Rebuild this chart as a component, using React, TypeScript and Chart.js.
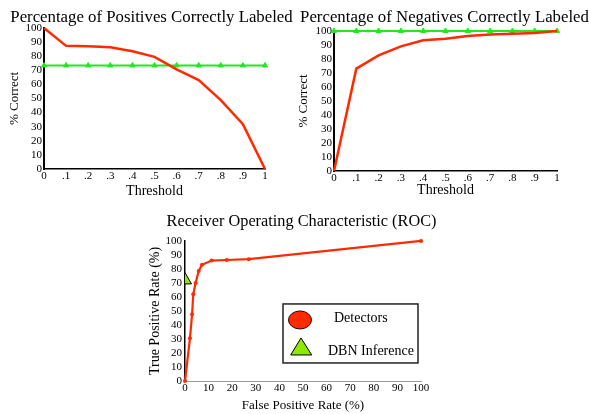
import React, { useEffect, useRef } from 'react';
import { Chart, registerables } from 'chart.js';

Chart.register(...registerables);

const FONT = "'Liberation Serif', 'Times New Roman', Times, serif";
const RED = '#ff2a00';
const GREEN = '#22e822';
const LIME = '#8fe800';

// ---- data ----
const thresholds = [0, 0.1, 0.2, 0.3, 0.4, 0.5, 0.6, 0.7, 0.8, 0.9, 1];
const thresholdTickLabels = ['0', '.1', '.2', '.3', '.4', '.5', '.6', '.7', '.8', '.9', '1'];
const percentTickLabels = ['0', '10', '20', '30', '40', '50', '60', '70', '80', '90', '100'];

const positivesDetectors = [100, 87.3, 87, 86.3, 83.5, 79.5, 70.6, 63, 48.9, 31.8, 0];
const positivesDBN = [73.4, 73.4, 73.4, 73.4, 73.4, 73.4, 73.4, 73.4, 73.4, 73.4, 73.4];
const negativesDetectors = [0, 73.1, 82.6, 89, 93.3, 94.5, 96.4, 97.4, 98, 98.6, 100];
const negativesDBN = [100, 100, 100, 100, 100, 100, 100, 100, 100, 100, 100];

const rocFalsePositive = [0, 2.1, 3, 3.5, 4.5, 5.8, 7.2, 11.3, 17.7, 27, 100];
const rocTruePositive = [0, 30.5, 47.6, 62, 70, 78.6, 83, 86, 86.4, 87, 100];
const dbnFalsePositive = [0];
const dbnTruePositive = [72];
const rocTickLabels = ['0', '10', '20', '30', '40', '50', '60', '70', '80', '90', '100'];

const legendLabels = ['Detectors', 'DBN Inference'];

type ThreshOpts = {
  title: string;
  red: number[];
  green: number[];
  rightSpace: number;
  titlePad: { top: number; bottom: number };
  yTitlePad: number;
  xTitlePadBottom: number;
  xAxisHeight: number;
};

function spacerAxis(width: number): any {
  return {
    position: 'right',
    display: true,
    grid: { display: false, drawTicks: false },
    border: { display: false },
    ticks: { display: false },
    afterFit: (s: any) => {
      s.width = width;
    },
  };
}

function thresholdConfig(o: ThreshOpts): any {
  return {
    type: 'line',
    data: {
      datasets: [
        {
          label: legendLabels[0],
          data: thresholds.map((x, i) => ({ x, y: o.red[i] })),
          borderColor: RED,
          backgroundColor: RED,
          borderWidth: 2.5,
          pointRadius: 0,
          tension: 0,
          clip: 4,
        },
        {
          label: legendLabels[1],
          data: thresholds.map((x, i) => ({ x, y: o.green[i] })),
          borderColor: GREEN,
          backgroundColor: GREEN,
          borderWidth: 2,
          pointStyle: 'triangle',
          pointRadius: 3,
          pointBorderWidth: 1,
          tension: 0,
          clip: 6,
        },
      ],
    },
    options: {
      animation: false,
      responsive: false,
      layout: { padding: 0 },
      plugins: {
        legend: { display: false },
        tooltip: { enabled: false },
        title: {
          display: true,
          text: o.title,
          color: '#000',
          font: { family: FONT, size: 16.8, weight: 'normal' },
          padding: o.titlePad,
        },
      },
      scales: {
        x: {
          type: 'linear',
          min: 0,
          max: 1,
          grid: { display: false, drawTicks: false },
          border: { display: true, color: '#000', width: 1.5 },
          ticks: {
            stepSize: 0.1,
            autoSkip: false,
            maxRotation: 0,
            padding: 1,
            color: '#000',
            font: { family: FONT, size: 11 },
            callback: (_v: number, i: number) => thresholdTickLabels[i],
          },
          title: {
            display: true,
            text: 'Threshold',
            color: '#000',
            font: { family: FONT, size: 14 },
            padding: { top: 0, bottom: o.xTitlePadBottom },
          },
          afterFit: (s: any) => {
            s.height = o.xAxisHeight;
          },
        },
        y: {
          type: 'linear',
          position: 'left',
          min: 0,
          max: 100,
          grid: { display: false, drawTicks: false },
          border: { display: true, color: '#000', width: 2 },
          ticks: {
            stepSize: 10,
            autoSkip: false,
            padding: 2,
            color: '#000',
            font: { family: FONT, size: 11 },
            callback: (_v: number, i: number) => percentTickLabels[i],
          },
          title: {
            display: true,
            text: '% Correct',
            color: '#000',
            font: { family: FONT, size: 13 },
            padding: { top: o.yTitlePad, bottom: 0 },
          },
          afterFit: (s: any) => {
            s.width = 44;
          },
        },
        spacer: spacerAxis(o.rightSpace),
      },
    },
  };
}

const rocLegendPlugin = {
  id: 'rocLegend',
  afterDraw(chart: any) {
    const { ctx, chartArea } = chart;
    const right = chartArea.right - 3;
    const left = right - 135;
    const top = chartArea.top + 63;
    const h = 59;
    ctx.save();
    ctx.fillStyle = '#fff';
    ctx.fillRect(left, top, right - left, h);
    ctx.strokeStyle = '#222';
    ctx.lineWidth = 1.5;
    ctx.strokeRect(left, top, right - left, h);
    // circle marker
    ctx.beginPath();
    ctx.ellipse(left + 17, top + 16, 11.5, 9, 0, 0, Math.PI * 2);
    ctx.fillStyle = RED;
    ctx.fill();
    ctx.strokeStyle = '#330000';
    ctx.lineWidth = 1;
    ctx.stroke();
    // triangle marker
    ctx.beginPath();
    ctx.moveTo(left + 18, top + 34);
    ctx.lineTo(left + 28.7, top + 51);
    ctx.lineTo(left + 7.7, top + 51);
    ctx.closePath();
    ctx.fillStyle = LIME;
    ctx.fill();
    ctx.strokeStyle = '#000';
    ctx.stroke();
    // labels
    ctx.fillStyle = '#000';
    ctx.font = `14px ${FONT}`;
    ctx.textBaseline = 'middle';
    ctx.textAlign = 'left';
    ctx.fillText(legendLabels[0], left + 51, top + 14);
    ctx.fillText(legendLabels[1], left + 45, top + 47);
    ctx.restore();
  },
};

function rocConfig(): any {
  return {
    type: 'line',
    data: {
      datasets: [
        {
          label: legendLabels[1],
          data: dbnFalsePositive.map((x, i) => ({ x, y: dbnTruePositive[i] })),
          showLine: false,
          pointStyle: 'triangle',
          pointRadius: 7.5,
          pointBackgroundColor: LIME,
          pointBorderColor: '#000',
          pointBorderWidth: 1,
          clip: { left: 0, top: 10, right: 10, bottom: 10 },
        },
        {
          label: legendLabels[0],
          data: rocFalsePositive.map((x, i) => ({ x, y: rocTruePositive[i] })),
          borderColor: RED,
          backgroundColor: RED,
          borderWidth: 2.2,
          pointRadius: 2,
          pointBorderWidth: 0,
          tension: 0,
          clip: 5,
        },
      ],
    },
    options: {
      animation: false,
      responsive: false,
      layout: { padding: 0 },
      plugins: {
        legend: { display: false },
        tooltip: { enabled: false },
        title: {
          display: true,
          text: 'Receiver Operating Characteristic (ROC)',
          color: '#000',
          font: { family: FONT, size: 16.3, weight: 'normal' },
          padding: { top: 12.2, bottom: 9.2 },
        },
      },
      scales: {
        x: {
          type: 'linear',
          min: 0,
          max: 100,
          grid: { display: false, drawTicks: false },
          border: { display: true, color: '#9a9a9a', width: 1 },
          ticks: {
            stepSize: 10,
            autoSkip: false,
            maxRotation: 0,
            padding: 0.5,
            color: '#000',
            font: { family: FONT, size: 11 },
            callback: (_v: number, i: number) => rocTickLabels[i],
          },
          title: {
            display: true,
            text: 'False Positive Rate (%)',
            color: '#000',
            font: { family: FONT, size: 13 },
            padding: { top: 0, bottom: 0.2 },
          },
          afterFit: (s: any) => {
            s.height = 33;
          },
        },
        y: {
          type: 'linear',
          position: 'left',
          min: 0,
          max: 100,
          grid: { display: false, drawTicks: false },
          border: { display: true, color: '#000', width: 1.5 },
          ticks: {
            stepSize: 10,
            autoSkip: false,
            padding: 3,
            color: '#000',
            font: { family: FONT, size: 11 },
            callback: (_v: number, i: number) => percentTickLabels[i],
          },
          title: {
            display: true,
            text: 'True Positive Rate (%)',
            color: '#000',
            font: { family: FONT, size: 14 },
            padding: { top: 6.6, bottom: 0 },
          },
          afterFit: (s: any) => {
            s.width = 45;
          },
        },
        spacer: spacerAxis(42),
      },
    },
    plugins: [rocLegendPlugin],
  };
}

function ChartCanvas(props: { make: () => any; left: number; top: number; width: number; height: number }) {
  const ref = useRef<HTMLCanvasElement>(null);
  useEffect(() => {
    const chart = new Chart(ref.current as HTMLCanvasElement, props.make());
    return () => chart.destroy();
  }, []);
  return (
    <canvas
      ref={ref}
      width={props.width}
      height={props.height}
      style={{ position: 'absolute', left: props.left, top: props.top, width: props.width, height: props.height }}
    />
  );
}

export default function App() {
  return (
    <div style={{ position: 'absolute', left: 0, top: 0, width: 589, height: 414, background: '#fff', overflow: 'hidden' }}>
      <ChartCanvas
        left={0}
        top={0}
        width={303}
        height={200}
        make={() =>
          thresholdConfig({
            title: 'Percentage of Positives Correctly Labeled',
            red: positivesDetectors,
            green: positivesDBN,
            rightSpace: 38,
            titlePad: { top: 7.3, bottom: 0.5 },
            yTitlePad: 7.2,
            xTitlePadBottom: 0.6,
            xAxisHeight: 31,
          })
        }
      />
      <ChartCanvas
        left={290}
        top={0}
        width={309}
        height={200}
        make={() =>
          thresholdConfig({
            title: 'Percentage of Negatives Correctly Labeled',
            red: negativesDetectors,
            green: negativesDBN,
            rightSpace: 42,
            titlePad: { top: 7.3, bottom: 3.5 },
            yTitlePad: 5.5,
            xTitlePadBottom: 1.6,
            xAxisHeight: 29,
          })
        }
      />
      <ChartCanvas left={140} top={200} width={323} height={214} make={rocConfig} />
    </div>
  );
}
